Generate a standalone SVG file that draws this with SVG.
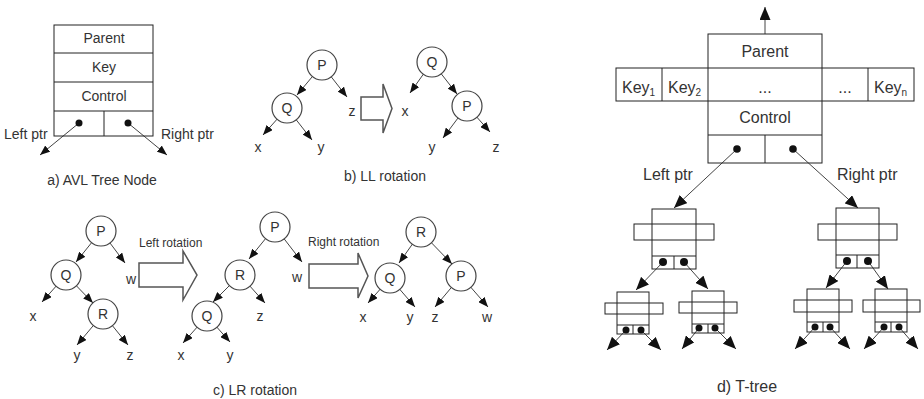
<svg xmlns="http://www.w3.org/2000/svg" width="924" height="399" viewBox="0 0 924 399">
<defs>
<style>
text{font-family:"Liberation Sans",Arial,sans-serif;fill:#333}
.t14{font-size:14px}
.t12{font-size:12px}
.t16{font-size:16px}
.c{text-anchor:middle}
.box{fill:none;stroke:#222;stroke-width:1}
.ln{stroke:#444;stroke-width:1;fill:none}
.circ{fill:#fff;stroke:#444;stroke-width:1.2}
.dot{fill:#111}
.blk{fill:#fff;stroke:#555;stroke-width:1.5}
.a{stroke:#444;stroke-width:1;marker-end:url(#ah)}
.aL{stroke:#444;stroke-width:1;marker-end:url(#ahL)}
</style>
<marker id="ah" markerWidth="10" markerHeight="8" refX="10" refY="4" orient="auto" markerUnits="userSpaceOnUse"><path d="M0,0L10,4L0,8z" fill="#111"/></marker>
<marker id="ahL" markerWidth="13" markerHeight="11" refX="13" refY="5.5" orient="auto" markerUnits="userSpaceOnUse"><path d="M0,0L13,5.5L0,11z" fill="#111"/></marker>
</defs>
<rect width="924" height="399" fill="#fff"/>

<!-- connectors -->
<g id="connectors">
  <!-- AVL node pointers -->
  <line class="a" x1="79" y1="123" x2="40" y2="155"/>
  <line class="a" x1="128" y1="123" x2="167" y2="155"/>
  <!-- LL before -->
  <line class="a" x1="322" y1="65" x2="297" y2="95"/>
  <line class="a" x1="322" y1="65" x2="347" y2="97"/>
  <line class="a" x1="287" y1="108" x2="263" y2="135"/>
  <line class="a" x1="287" y1="108" x2="312" y2="140"/>
  <!-- LL after -->
  <line class="a" x1="432" y1="62" x2="410" y2="93"/>
  <line class="a" x1="432" y1="62" x2="457" y2="94"/>
  <line class="a" x1="467" y1="106" x2="443" y2="138"/>
  <line class="a" x1="467" y1="106" x2="490" y2="132"/>
  <!-- LR tree 1 -->
  <line class="a" x1="101" y1="231" x2="76" y2="262"/>
  <line class="a" x1="101" y1="231" x2="125" y2="263"/>
  <line class="a" x1="66" y1="275" x2="42" y2="302"/>
  <line class="a" x1="66" y1="275" x2="93" y2="303"/>
  <line class="a" x1="103" y1="314" x2="77" y2="345"/>
  <line class="a" x1="103" y1="314" x2="128" y2="345"/>
  <!-- LR tree 2 -->
  <line class="a" x1="275" y1="227" x2="249" y2="259"/>
  <line class="a" x1="275" y1="227" x2="302" y2="262"/>
  <line class="a" x1="240" y1="275" x2="213" y2="302"/>
  <line class="a" x1="240" y1="275" x2="265" y2="303"/>
  <line class="a" x1="207" y1="316" x2="183" y2="343"/>
  <line class="a" x1="207" y1="316" x2="230" y2="342"/>
  <!-- LR tree 3 -->
  <line class="a" x1="421" y1="232" x2="399" y2="263"/>
  <line class="a" x1="421" y1="232" x2="452" y2="264"/>
  <line class="a" x1="390" y1="278" x2="368" y2="303"/>
  <line class="a" x1="390" y1="278" x2="415" y2="307"/>
  <line class="a" x1="461" y1="276" x2="435" y2="307"/>
  <line class="a" x1="461" y1="276" x2="488" y2="307"/>
  <!-- T-tree -->
  <line class="aL" x1="765" y1="34" x2="765" y2="7"/>
  <line class="aL" x1="737" y1="149" x2="674" y2="208"/>
  <line class="aL" x1="793" y1="149" x2="858" y2="208"/>
  <line class="aL" x1="663" y1="262" x2="636" y2="290"/>
  <line class="aL" x1="684" y1="262" x2="708" y2="289"/>
  <line class="aL" x1="847" y1="261" x2="826" y2="288"/>
  <line class="aL" x1="868" y1="261" x2="888" y2="289"/>
  <line class="aL" x1="626" y1="330" x2="607" y2="350"/>
  <line class="aL" x1="641" y1="330" x2="661" y2="350"/>
  <line class="aL" x1="699" y1="328" x2="682" y2="349"/>
  <line class="aL" x1="715" y1="328" x2="736" y2="349"/>
  <line class="aL" x1="815" y1="327" x2="795" y2="349"/>
  <line class="aL" x1="830" y1="327" x2="850" y2="349"/>
  <line class="aL" x1="884" y1="327" x2="864" y2="349"/>
  <line class="aL" x1="899" y1="327" x2="918" y2="349"/>
</g>

<!-- a) AVL tree node -->
<g id="avl-node">
  <rect class="box" x="54" y="25" width="99" height="111"/>
  <line class="box" x1="54" y1="53" x2="153" y2="53"/>
  <line class="box" x1="54" y1="82" x2="153" y2="82"/>
  <line class="box" x1="54" y1="111" x2="153" y2="111"/>
  <line class="box" x1="104" y1="111" x2="104" y2="136"/>
  <text class="t14 c" x="104" y="43">Parent</text>
  <text class="t14 c" x="104" y="72">Key</text>
  <text class="t14 c" x="104" y="101">Control</text>
  <circle class="dot" cx="79" cy="123" r="3.5"/>
  <circle class="dot" cx="128" cy="123" r="3.5"/>
  <text class="t14" x="4" y="139">Left ptr</text>
  <text class="t14" x="161" y="139">Right ptr</text>
  <text class="t14 c" x="102" y="185">a) AVL Tree Node</text>
</g>

<!-- b) LL rotation -->
<g id="ll-before">
  <circle class="circ" cx="322" cy="65" r="15"/><text class="t14 c" x="322" y="70">P</text>
  <circle class="circ" cx="287" cy="108" r="15"/><text class="t14 c" x="287" y="113">Q</text>
  <text class="t14 c" x="352" y="116">z</text>
  <text class="t14 c" x="258" y="152">x</text>
  <text class="t14 c" x="321" y="152">y</text>
</g>
<g id="ll-arrow">
  <polygon class="blk" points="361,97 383,97 383,84 392,108.5 383,133 383,120 361,120"/>
</g>
<g id="ll-after">
  <circle class="circ" cx="432" cy="62" r="15"/><text class="t14 c" x="432" y="67">Q</text>
  <circle class="circ" cx="467" cy="106" r="15"/><text class="t14 c" x="467" y="111">P</text>
  <text class="t14 c" x="405" y="116">x</text>
  <text class="t14 c" x="432" y="152">y</text>
  <text class="t14 c" x="496" y="152">z</text>
  <text class="t14 c" x="385" y="181">b) LL rotation</text>
</g>

<!-- c) LR rotation -->
<g id="lr-tree1">
  <circle class="circ" cx="101" cy="231" r="15"/><text class="t14 c" x="101" y="236">P</text>
  <circle class="circ" cx="66" cy="275" r="15"/><text class="t14 c" x="66" y="280">Q</text>
  <circle class="circ" cx="103" cy="314" r="15"/><text class="t14 c" x="103" y="319">R</text>
  <text class="t14 c" x="131" y="284">w</text>
  <text class="t14 c" x="33" y="321">x</text>
  <text class="t14 c" x="77" y="360">y</text>
  <text class="t14 c" x="130" y="360">z</text>
</g>
<g id="lr-arrow1">
  <text class="t12" x="139" y="247">Left rotation</text>
  <polygon class="blk" points="139,263 183,263 183,251 197,275 183,300 183,287 139,287"/>
</g>
<g id="lr-tree2">
  <circle class="circ" cx="275" cy="227" r="15"/><text class="t14 c" x="275" y="232">P</text>
  <circle class="circ" cx="240" cy="275" r="15"/><text class="t14 c" x="240" y="280">R</text>
  <circle class="circ" cx="207" cy="316" r="15"/><text class="t14 c" x="207" y="321">Q</text>
  <text class="t14 c" x="297" y="282">w</text>
  <text class="t14 c" x="260" y="321">z</text>
  <text class="t14 c" x="181" y="360">x</text>
  <text class="t14 c" x="230" y="360">y</text>
</g>
<g id="lr-arrow2">
  <text class="t12" x="308" y="246">Right rotation</text>
  <polygon class="blk" points="309,264 358,264 358,253 368,276 358,298 358,288 309,288"/>
</g>
<g id="lr-tree3">
  <circle class="circ" cx="421" cy="232" r="15"/><text class="t14 c" x="421" y="237">R</text>
  <circle class="circ" cx="390" cy="278" r="15"/><text class="t14 c" x="390" y="283">Q</text>
  <circle class="circ" cx="461" cy="276" r="15"/><text class="t14 c" x="461" y="281">P</text>
  <text class="t14 c" x="363" y="322">x</text>
  <text class="t14 c" x="410" y="322">y</text>
  <text class="t14 c" x="435" y="322">z</text>
  <text class="t14 c" x="487" y="322">w</text>
  <text class="t14 c" x="255" y="395">c) LR rotation</text>
</g>

<!-- d) T-tree -->
<g id="ttree-root">
  <rect class="box" x="708" y="34" width="114" height="129"/>
  <rect class="box" x="616" y="68" width="298" height="33"/>
  <line class="box" x1="662" y1="68" x2="662" y2="101"/>
  <line class="box" x1="868" y1="68" x2="868" y2="101"/>
  <line class="box" x1="708" y1="135" x2="822" y2="135"/>
  <line class="box" x1="765" y1="135" x2="765" y2="163"/>
  <text class="t16 c" x="765" y="57">Parent</text>
  <text class="t16" x="622" y="93">Key<tspan font-size="10" dy="3">1</tspan></text>
  <text class="t16" x="668" y="93">Key<tspan font-size="10" dy="3">2</tspan></text>
  <text class="t16 c" x="765" y="93">...</text>
  <text class="t16 c" x="845" y="93">...</text>
  <text class="t16" x="874" y="93">Key<tspan font-size="10" dy="3">n</tspan></text>
  <text class="t16 c" x="765" y="123">Control</text>
  <circle class="dot" cx="737" cy="149" r="3.8"/>
  <circle class="dot" cx="793" cy="149" r="3.8"/>
  <text class="t16" x="643" y="180">Left ptr</text>
  <text class="t16" x="837" y="180">Right ptr</text>
  <text class="t16 c" x="747" y="392">d) T-tree</text>
</g>
<g id="ttree-left">
  <rect class="box" x="652" y="209" width="44" height="60"/>
  <rect class="box" x="634" y="224" width="80" height="16"/>
  <line class="box" x1="652" y1="256" x2="696" y2="256"/>
  <line class="box" x1="674" y1="256" x2="674" y2="269"/>
  <circle class="dot" cx="663" cy="262" r="4"/>
  <circle class="dot" cx="684" cy="262" r="4"/>
</g>
<g id="ttree-right">
  <rect class="box" x="836" y="208" width="43" height="60"/>
  <rect class="box" x="818" y="224" width="79" height="16"/>
  <line class="box" x1="836" y1="255" x2="879" y2="255"/>
  <line class="box" x1="857" y1="255" x2="857" y2="268"/>
  <circle class="dot" cx="847" cy="261" r="4"/>
  <circle class="dot" cx="868" cy="261" r="4"/>
</g>
<g id="ttree-ll">
  <rect class="box" x="617" y="292" width="32" height="42"/>
  <rect class="box" x="605" y="303" width="58" height="11"/>
  <line class="box" x1="617" y1="325" x2="649" y2="325"/>
  <line class="box" x1="633" y1="325" x2="633" y2="334"/>
  <circle class="dot" cx="626" cy="330" r="3.5"/>
  <circle class="dot" cx="641" cy="330" r="3.5"/>
</g>
<g id="ttree-lr">
  <rect class="box" x="692" y="291" width="32" height="42"/>
  <rect class="box" x="679" y="302" width="58" height="11"/>
  <line class="box" x1="692" y1="324" x2="724" y2="324"/>
  <line class="box" x1="708" y1="324" x2="708" y2="333"/>
  <circle class="dot" cx="699" cy="328" r="3.5"/>
  <circle class="dot" cx="715" cy="328" r="3.5"/>
</g>
<g id="ttree-rl">
  <rect class="box" x="807" y="289" width="32" height="43"/>
  <rect class="box" x="794" y="300" width="58" height="12"/>
  <line class="box" x1="807" y1="322" x2="839" y2="322"/>
  <line class="box" x1="823" y1="322" x2="823" y2="332"/>
  <circle class="dot" cx="815" cy="327" r="3.5"/>
  <circle class="dot" cx="830" cy="327" r="3.5"/>
</g>
<g id="ttree-rr">
  <rect class="box" x="875" y="289" width="32" height="43"/>
  <rect class="box" x="863" y="300" width="57" height="12"/>
  <line class="box" x1="875" y1="322" x2="907" y2="322"/>
  <line class="box" x1="891" y1="322" x2="891" y2="332"/>
  <circle class="dot" cx="884" cy="327" r="3.5"/>
  <circle class="dot" cx="899" cy="327" r="3.5"/>
</g>
</svg>
